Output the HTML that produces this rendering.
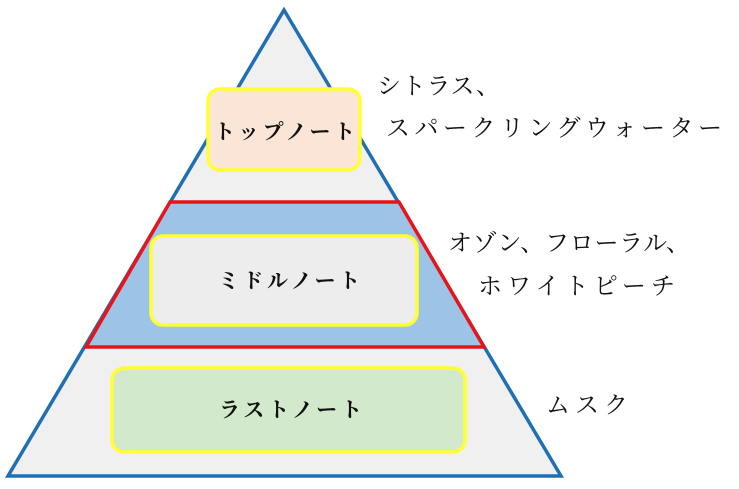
<!DOCTYPE html>
<html><head><meta charset="utf-8"><style>
html,body{margin:0;padding:0;background:#fff;width:739px;height:489px;overflow:hidden}
svg text{font-family:"Liberation Serif","Noto Serif CJK JP","Noto Serif CJK SC",serif;fill:#111}
</style></head><body>
<svg width="739" height="489" viewBox="0 0 739 489">
<polygon points="284,10 8,476 561,476" fill="#f0f0f0" stroke="#1f6fb4" stroke-width="3.5"/>
<polygon points="170,202 399,202 484,347 86,347" fill="#9dc3e6" stroke="#e8141b" stroke-width="3.5"/>
<rect x="208" y="89" width="152" height="81" rx="12" fill="#fbe5d6" stroke="#ffff33" stroke-width="3.5"/>
<rect x="151" y="236" width="266" height="89" rx="12" fill="#ededed" stroke="#ffff33" stroke-width="3.5"/>
<rect x="112" y="368" width="353" height="84" rx="12" fill="#d3e9cb" stroke="#ffff33" stroke-width="3.5"/>
<text x="214" y="139" font-size="21" font-weight="bold" textLength="141" lengthAdjust="spacing">トップノート</text>
<text x="218" y="288" font-size="21" font-weight="bold" textLength="142" lengthAdjust="spacing">ミドルノート</text>
<text x="219" y="417" font-size="21" font-weight="bold" textLength="143" lengthAdjust="spacing">ラストノート</text>
<text x="377" y="94" font-size="24" textLength="123" lengthAdjust="spacing">シトラス、</text>
<text x="386" y="136" font-size="24" textLength="336" lengthAdjust="spacing">スパークリングウォーター</text>
<text x="448" y="251" font-size="24" textLength="242" lengthAdjust="spacing">オゾン、フローラル、</text>
<text x="478" y="294" font-size="24" textLength="197" lengthAdjust="spacing">ホワイトピーチ</text>
<text x="546" y="413" font-size="24" textLength="82" lengthAdjust="spacing">ムスク</text>
</svg>
</body></html>
